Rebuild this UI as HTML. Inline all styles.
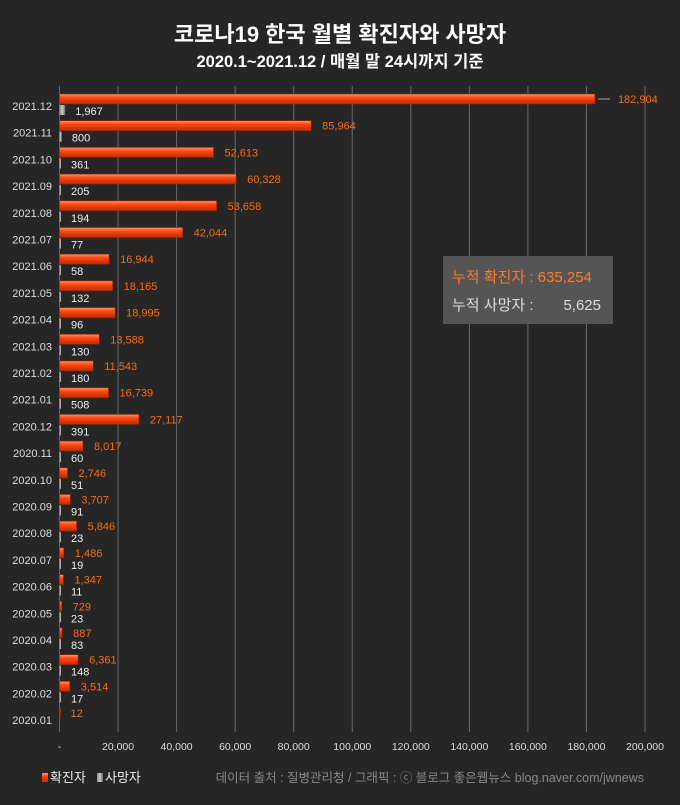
<!DOCTYPE html>
<html><head><meta charset="utf-8"><style>
body{margin:0;background:#262626;}
svg text{font-family:"Liberation Sans","Noto Sans CJK KR",sans-serif;}
</style></head><body>
<svg id="c" width="680" height="800" xmlns="http://www.w3.org/2000/svg">
<defs>
<linearGradient id="gr" x1="0" y1="0" x2="0" y2="1"><stop offset="0" stop-color="#ff9a70"/><stop offset="0.35" stop-color="#ff4a12"/><stop offset="1" stop-color="#c02a00"/></linearGradient>
<linearGradient id="gg" x1="0" y1="0" x2="1" y2="0"><stop offset="0" stop-color="#888"/><stop offset="0.5" stop-color="#ccc"/><stop offset="1" stop-color="#666"/></linearGradient>
</defs>
<text x="340" y="42" text-anchor="middle" fill="#fff" font-size="22" font-weight="bold">코로나19 한국 월별 확진자와 사망자</text>
<text x="340" y="67" text-anchor="middle" fill="#fff" font-size="16.5" font-weight="bold">2020.1~2021.12 / 매월 말 24시까지 기준</text>
<g id="grid"></g><g id="bars"></g>
<rect x="443" y="256" width="170" height="68" fill="#555"/>
<text x="452" y="282" fill="#ff7a2a" font-size="15">누적 확진자 : 635,254</text>
<text x="452" y="310" fill="#ddd" font-size="15">누적 사망자 :</text>
<text x="601" y="310" fill="#ddd" font-size="15" text-anchor="end">5,625</text>
<rect x="42" y="773" width="6" height="9" fill="url(#gr)"/>
<text x="50" y="782" fill="#eee" font-size="13">확진자</text>
<rect x="97" y="773" width="6" height="9" fill="url(#gg)"/>
<text x="105" y="782" fill="#eee" font-size="13">사망자</text>
<text x="644" y="782" text-anchor="end" fill="#888" font-size="12.5">데이터 출처 : 질병관리청 / 그래픽 : ⓒ 블로그 좋은웹뉴스 blog.naver.com/jwnews</text>
</svg>
<script>
const months=["2021.12","2021.11","2021.10","2021.09","2021.08","2021.07","2021.06","2021.05","2021.04","2021.03","2021.02","2021.01","2020.12","2020.11","2020.10","2020.09","2020.08","2020.07","2020.06","2020.05","2020.04","2020.03","2020.02","2020.01"];
const confirmed=[182904,85964,52613,60328,53658,42044,16944,18165,18995,13588,11543,16739,27117,8017,2746,3707,5846,1486,1347,729,887,6361,3514,12];
const deaths=[1967,800,361,205,194,77,58,132,96,130,180,508,391,60,51,91,23,19,11,23,83,148,17,0];
const ticks=[0,20000,40000,60000,80000,100000,120000,140000,160000,180000,200000];
const NS="http://www.w3.org/2000/svg";
const x0=59.5,x1=645,xMax=200000;
const xs=v=>x0+(x1-x0)*v/xMax;
const ys=i=>106+i*26.7;
const fmt=v=>v.toLocaleString('en-US');
function mk(t,a,p){const e=document.createElementNS(NS,t);for(const k in a)e.setAttribute(k,a[k]);(p||document.getElementById('bars')).appendChild(e);return e;}
const g=document.getElementById('grid');
ticks.forEach((t,i)=>{
 if(i>0){const l=mk('line',{x1:xs(t),x2:xs(t),y1:86,y2:732,stroke:'#6a6a6a','stroke-width':1},g);
 
 }
 const tx=mk('text',{x:xs(t),y:750,'text-anchor':'middle',fill:'#ddd','font-size':10.5},g);
 tx.textContent=t===0?'-':fmt(t);
 
 
});
const ax=mk('line',{x1:x0,x2:x0,y1:86,y2:732,stroke:'#666'},g);


months.forEach((m,i)=>{
 const c=ys(i);
 const lb=mk('text',{x:52,y:c+4,'text-anchor':'end',fill:'#ddd','font-size':11});
 lb.textContent=m;
 
 
 const ex=xs(confirmed[i]);
 const b=mk('rect',{x:x0,y:c-12,width:Math.max(ex-x0,1),height:10,fill:'url(#gr)',stroke:'#a02000','stroke-width':0.6});
 
 
 const dx=xs(deaths[i]);
 const d=mk('rect',{x:x0,y:c-1,width:Math.max(dx-x0,deaths[i]>0?1.5:0),height:10,fill:'url(#gg)'});
 
 
 let lx=Math.max(ex+11,68);
 if(confirmed[i]>150000){lx=ex+23;const ll=mk('line',{x1:ex+3,x2:ex+15,y1:c-7,y2:c-7,stroke:'#aaa'});
  
  }
 const cv=mk('text',{x:lx,y:c-3,fill:'#ff6a10','font-size':11});
 cv.textContent=fmt(confirmed[i]);
 
 
 if(deaths[i]>0){const dv=mk('text',{x:Math.max(dx+10,71),y:c+9,fill:'#eee','font-size':11});
 dv.textContent=fmt(deaths[i]);
 
 }
});
</script>
</body></html>
